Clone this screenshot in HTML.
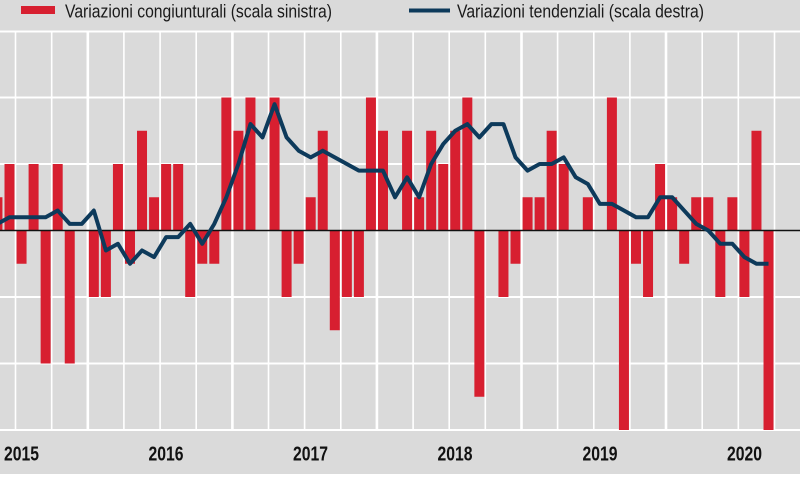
<!DOCTYPE html>
<html>
<head>
<meta charset="utf-8">
<style>
  html, body { margin: 0; padding: 0; background: #ffffff; }
  body { width: 800px; height: 497px; overflow: hidden; }
  svg { display: block; }
  text { font-family: "Liberation Sans", Arial, sans-serif; }
</style>
</head>
<body>
<svg width="800" height="497" viewBox="0 0 800 497" xmlns="http://www.w3.org/2000/svg">
  <rect x="0" y="0" width="800" height="497" fill="#ffffff"/>
  <rect x="0" y="0" width="800" height="474" fill="#dadada"/>

  <rect x="21" y="6" width="34" height="8" fill="#d71f30"/>
  <text x="65" y="17.5" font-size="18" fill="#1a1a1a" textLength="267" lengthAdjust="spacingAndGlyphs">Variazioni congiunturali (scala sinistra)</text>
  <line x1="409" y1="10.5" x2="450" y2="10.5" stroke="#0d3a5b" stroke-width="4"/>
  <text x="457" y="17.5" font-size="18" fill="#1a1a1a" textLength="247" lengthAdjust="spacingAndGlyphs">Variazioni tendenziali (scala destra)</text>

  <g stroke="#ffffff" stroke-width="2">
    <line x1="0" y1="31.5" x2="800" y2="31.5"/>
    <line x1="0" y1="97.5" x2="800" y2="97.5"/>
    <line x1="0" y1="164" x2="800" y2="164"/>
    <line x1="0" y1="297" x2="800" y2="297"/>
    <line x1="0" y1="363.5" x2="800" y2="363.5"/>
    <line x1="0" y1="430" x2="800" y2="430"/>
  </g>
  <g stroke="#ffffff" stroke-width="1.6">
    <line x1="15.5" y1="32" x2="15.5" y2="430"/>
    <line x1="51.7" y1="32" x2="51.7" y2="430"/>
    <line x1="87.8" y1="32" x2="87.8" y2="430" stroke-width="2.6"/>
    <line x1="123.9" y1="32" x2="123.9" y2="430"/>
    <line x1="160.1" y1="32" x2="160.1" y2="430"/>
    <line x1="196.2" y1="32" x2="196.2" y2="430"/>
    <line x1="232.4" y1="32" x2="232.4" y2="430" stroke-width="2.6"/>
    <line x1="268.5" y1="32" x2="268.5" y2="430"/>
    <line x1="304.6" y1="32" x2="304.6" y2="430"/>
    <line x1="340.8" y1="32" x2="340.8" y2="430"/>
    <line x1="376.9" y1="32" x2="376.9" y2="430" stroke-width="2.6"/>
    <line x1="413.1" y1="32" x2="413.1" y2="430"/>
    <line x1="449.2" y1="32" x2="449.2" y2="430"/>
    <line x1="485.3" y1="32" x2="485.3" y2="430"/>
    <line x1="521.5" y1="32" x2="521.5" y2="430" stroke-width="2.6"/>
    <line x1="557.6" y1="32" x2="557.6" y2="430"/>
    <line x1="593.8" y1="32" x2="593.8" y2="430"/>
    <line x1="629.9" y1="32" x2="629.9" y2="430"/>
    <line x1="666.0" y1="32" x2="666.0" y2="430" stroke-width="2.6"/>
    <line x1="702.2" y1="32" x2="702.2" y2="430"/>
    <line x1="738.3" y1="32" x2="738.3" y2="430"/>
    <line x1="774.5" y1="32" x2="774.5" y2="430"/>
  </g>

  <g fill="#d71f30">
    <rect x="-7.55" y="197.25" width="10" height="33.25"/>
    <rect x="4.50" y="164" width="10" height="66.5"/>
    <rect x="16.55" y="230.5" width="10" height="33.25"/>
    <rect x="28.59" y="164" width="10" height="66.5"/>
    <rect x="40.64" y="230.5" width="10" height="133"/>
    <rect x="52.69" y="164" width="10" height="66.5"/>
    <rect x="64.74" y="230.5" width="10" height="133"/>
    <rect x="88.83" y="230.5" width="10" height="66.5"/>
    <rect x="100.88" y="230.5" width="10" height="66.5"/>
    <rect x="112.93" y="164" width="10" height="66.5"/>
    <rect x="124.98" y="230.5" width="10" height="33.25"/>
    <rect x="137.02" y="130.75" width="10" height="99.75"/>
    <rect x="149.07" y="197.25" width="10" height="33.25"/>
    <rect x="161.12" y="164" width="10" height="66.5"/>
    <rect x="173.17" y="164" width="10" height="66.5"/>
    <rect x="185.22" y="230.5" width="10" height="66.5"/>
    <rect x="197.26" y="230.5" width="10" height="33.25"/>
    <rect x="209.31" y="230.5" width="10" height="33.25"/>
    <rect x="221.36" y="97.5" width="10" height="133"/>
    <rect x="233.41" y="130.75" width="10" height="99.75"/>
    <rect x="245.46" y="97.5" width="10" height="133"/>
    <rect x="269.55" y="97.5" width="10" height="133"/>
    <rect x="281.60" y="230.5" width="10" height="66.5"/>
    <rect x="293.65" y="230.5" width="10" height="33.25"/>
    <rect x="305.70" y="197.25" width="10" height="33.25"/>
    <rect x="317.74" y="130.75" width="10" height="99.75"/>
    <rect x="329.79" y="230.5" width="10" height="99.75"/>
    <rect x="341.84" y="230.5" width="10" height="66.5"/>
    <rect x="353.89" y="230.5" width="10" height="66.5"/>
    <rect x="365.94" y="97.5" width="10" height="133"/>
    <rect x="377.98" y="130.75" width="10" height="99.75"/>
    <rect x="402.08" y="130.75" width="10" height="99.75"/>
    <rect x="414.13" y="197.25" width="10" height="33.25"/>
    <rect x="426.18" y="130.75" width="10" height="99.75"/>
    <rect x="438.22" y="164" width="10" height="66.5"/>
    <rect x="450.27" y="130.75" width="10" height="99.75"/>
    <rect x="462.32" y="97.5" width="10" height="133"/>
    <rect x="474.37" y="230.5" width="10" height="166.25"/>
    <rect x="498.46" y="230.5" width="10" height="66.5"/>
    <rect x="510.51" y="230.5" width="10" height="33.25"/>
    <rect x="522.56" y="197.25" width="10" height="33.25"/>
    <rect x="534.61" y="197.25" width="10" height="33.25"/>
    <rect x="546.66" y="130.75" width="10" height="99.75"/>
    <rect x="558.70" y="164" width="10" height="66.5"/>
    <rect x="582.80" y="197.25" width="10" height="33.25"/>
    <rect x="606.90" y="97.5" width="10" height="133"/>
    <rect x="618.94" y="230.5" width="10" height="199.5"/>
    <rect x="630.99" y="230.5" width="10" height="33.25"/>
    <rect x="643.04" y="230.5" width="10" height="66.5"/>
    <rect x="655.09" y="164" width="10" height="66.5"/>
    <rect x="667.14" y="197.25" width="10" height="33.25"/>
    <rect x="679.18" y="230.5" width="10" height="33.25"/>
    <rect x="691.23" y="197.25" width="10" height="33.25"/>
    <rect x="703.28" y="197.25" width="10" height="33.25"/>
    <rect x="715.33" y="230.5" width="10" height="66.5"/>
    <rect x="727.38" y="197.25" width="10" height="33.25"/>
    <rect x="739.42" y="230.5" width="10" height="66.5"/>
    <rect x="751.47" y="130.75" width="10" height="99.75"/>
    <rect x="763.52" y="230.5" width="10" height="199.5"/>
  </g>

  <line x1="0" y1="230.5" x2="800" y2="230.5" stroke="#111111" stroke-width="1.6"/>

  <polyline fill="none" stroke="#0d3a5b" stroke-width="4" stroke-linejoin="round" stroke-linecap="butt"
    points="-2.55,223.85 9.50,217.2 21.55,217.2 33.59,217.2 45.64,217.2 57.69,210.55 69.74,223.85 81.79,223.85 93.83,210.55 105.88,250.45 117.93,243.8 129.98,263.75 142.02,250.45 154.07,257.1 166.12,237.15 178.17,237.15 190.22,223.85 202.26,243.8 214.31,223.85 226.36,197.25 238.41,164 250.46,124.1 262.50,137.4 274.55,104.15 286.60,137.4 298.65,150.7 310.70,157.35 322.74,150.7 334.79,157.35 346.84,164 358.89,170.65 370.94,170.65 382.98,170.65 395.03,197.25 407.08,177.3 419.13,197.25 431.18,164 443.22,144.05 455.27,130.75 467.32,124.1 479.37,137.4 491.42,124.1 503.46,124.1 515.51,157.35 527.56,170.65 539.61,164 551.66,164 563.70,157.35 575.75,177.3 587.80,183.95 599.85,203.9 611.90,203.9 623.94,210.55 635.99,217.2 648.04,217.2 660.09,197.25 672.14,197.25 684.18,210.55 696.23,223.85 708.28,230.5 720.33,243.8 732.38,243.8 744.42,257.1 756.47,263.75 768.52,263.75"/>

  <g font-size="20" font-weight="bold" fill="#111111">
    <text x="4" y="460.5" textLength="35" lengthAdjust="spacingAndGlyphs">2015</text>
    <text x="148.5" y="460.5" textLength="35" lengthAdjust="spacingAndGlyphs">2016</text>
    <text x="293" y="460.5" textLength="35" lengthAdjust="spacingAndGlyphs">2017</text>
    <text x="437.5" y="460.5" textLength="35" lengthAdjust="spacingAndGlyphs">2018</text>
    <text x="582.5" y="460.5" textLength="35" lengthAdjust="spacingAndGlyphs">2019</text>
    <text x="727" y="460.5" textLength="35" lengthAdjust="spacingAndGlyphs">2020</text>
  </g>
</svg>
</body>
</html>
